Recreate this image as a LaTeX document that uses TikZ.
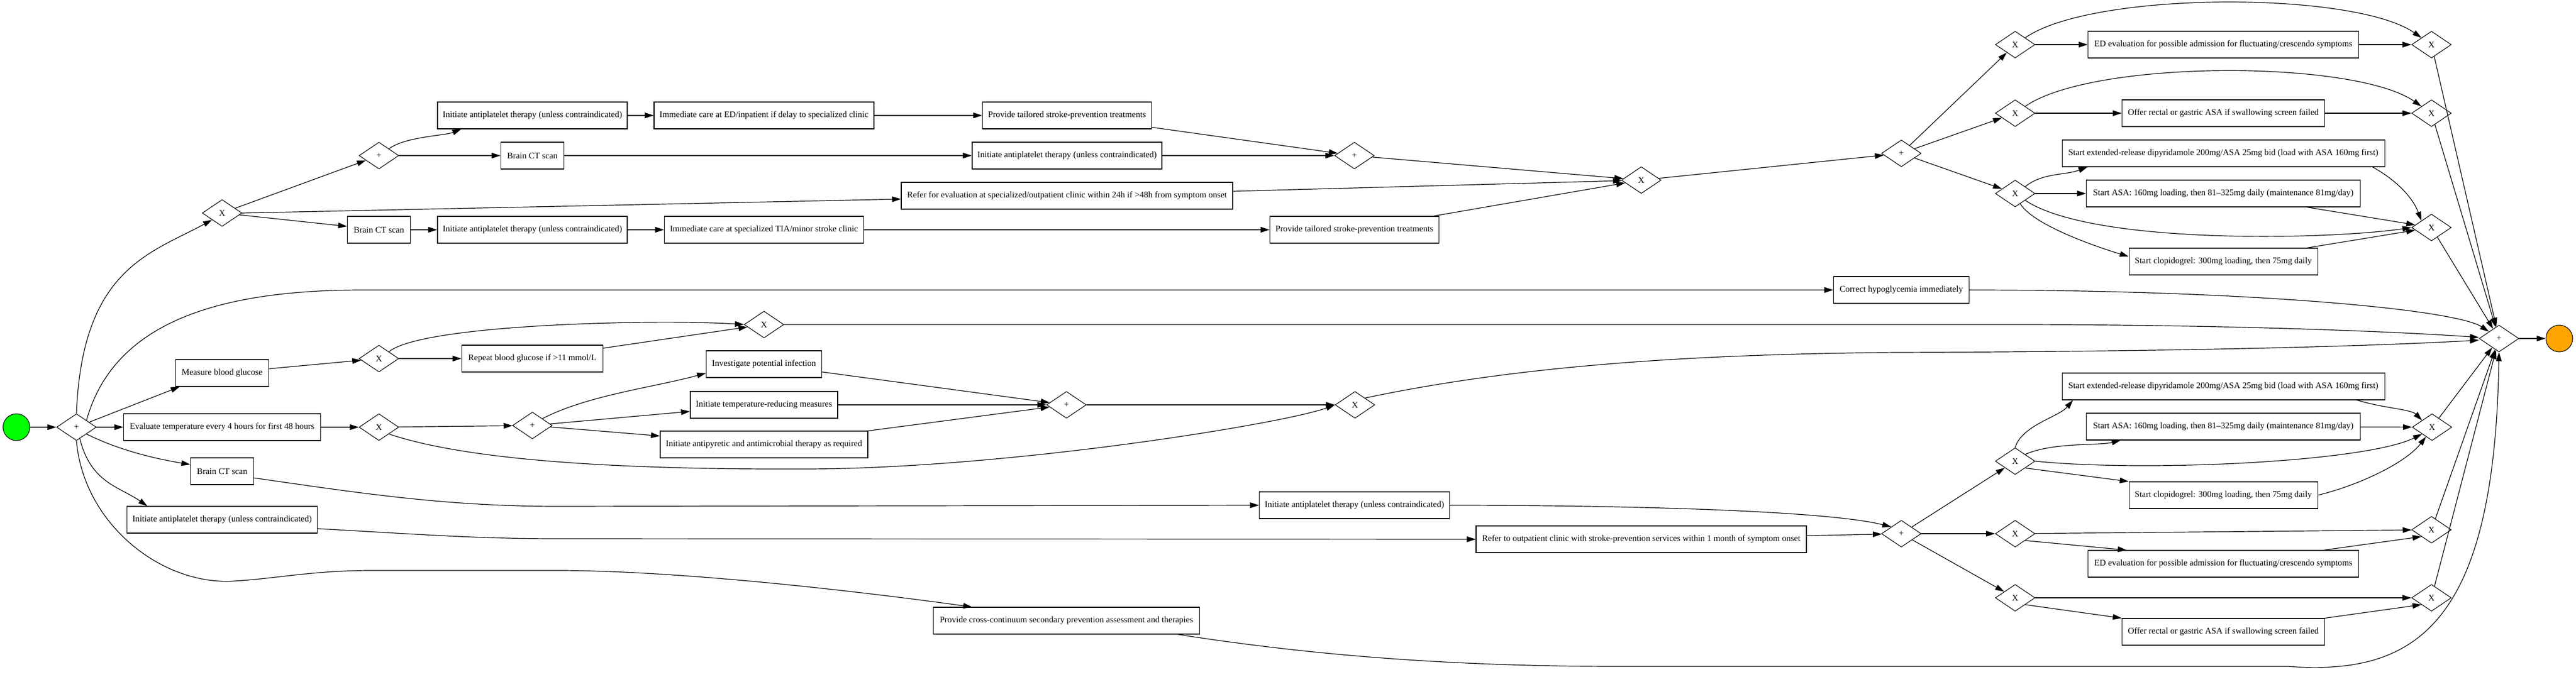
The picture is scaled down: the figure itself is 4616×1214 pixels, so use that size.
\documentclass[tikz,border=0pt]{standalone}
\usepackage{fontspec}
\setmainfont{Liberation Serif}
\usetikzlibrary{shapes.geometric,arrows.meta,calc}
\definecolor{startgreen}{HTML}{00FF00}
\definecolor{endorange}{HTML}{FFA500}
\begin{document}
\begin{tikzpicture}[x=1pt,y=-1pt,
  task/.style={draw, line width=1.1pt, rectangle, minimum height=48pt, inner xsep=3pt, inner ysep=0pt, font=\fontsize{15.6}{18}\selectfont},
  gw/.style={draw, line width=1.1pt, diamond, minimum width=71pt, minimum height=48pt, inner sep=0pt, font=\fontsize{15.6}{18}\selectfont},
  startev/.style={circle, draw, line width=1.1pt, fill=startgreen, minimum size=48pt, inner sep=0pt},
  endev/.style={circle, draw, line width=1.1pt, fill=endorange, minimum size=48pt, inner sep=0pt},
  flow/.style={line width=1.2pt, -{Triangle[length=16pt,width=10pt]}}]
\useasboundingbox (0,0) rectangle (4616,1214);

% ---------- nodes ----------
\node[startev] (start) at (29.5,766) {};
\node[gw] (mainp) at (137,766) {+};

\node[gw] (Xup) at (398,382) {X};
\node[gw] (ptop) at (679,279) {+};
\node[task, minimum width=113pt] (bct1) at (679,412) {Brain CT scan};
\node[task, minimum width=594pt] (refer) at (1912,351) {Refer for evaluation at specialized/outpatient clinic within 24h if >48h from symptom onset};
\node[task, minimum width=340pt] (aplT) at (954,207) {Initiate antiplatelet therapy (unless contraindicated)};
\node[task, minimum width=394pt] (edT) at (1369,207) {Immediate care at ED/inpatient if delay to specialized clinic};
\node[task, minimum width=303pt] (ptT) at (1912,207) {Provide tailored stroke-prevention treatments};
\node[task, minimum width=113pt] (bct2) at (954,279) {Brain CT scan};
\node[task, minimum width=340pt] (aplM) at (1912,279) {Initiate antiplatelet therapy (unless contraindicated)};
\node[gw] (pmerge) at (2427,279) {+};
\node[task, minimum width=340pt] (aplB) at (954,412) {Initiate antiplatelet therapy (unless contraindicated)};
\node[task, minimum width=357pt] (tia) at (1369,412) {Immediate care at specialized TIA/minor stroke clinic};
\node[task, minimum width=303pt] (ptB) at (2427,412) {Provide tailored stroke-prevention treatments};
\node[gw] (Xmerge) at (2941,323) {X};
\node[gw] (psplitT) at (3407,275) {+};

\node[gw] (X1) at (3611,80) {X};
\node[task, minimum width=485pt] (ed1) at (3984,80) {ED evaluation for possible admission for fluctuating/crescendo symptoms};
\node[gw] (X1m) at (4357,80) {X};
\node[gw] (X2) at (3611,203) {X};
\node[task, minimum width=363pt] (or2) at (3984,203) {Offer rectal or gastric ASA if swallowing screen failed};
\node[gw] (X2m) at (4357,203) {X};
\node[gw] (X3) at (3611,347) {X};
\node[task, minimum width=578pt] (sx3) at (3984,275) {Start extended-release dipyridamole 200mg/ASA 25mg bid (load with ASA 160mg first)};
\node[task, minimum width=491pt] (sa3) at (3984,347) {Start ASA: 160mg loading, then 81--325mg daily (maintenance 81mg/day)};
\node[task, minimum width=338pt] (sc3) at (3984,469) {Start clopidogrel: 300mg loading, then 75mg daily};
\node[gw] (X3m) at (4357,408) {X};

\node[task, minimum width=243pt] (hypo) at (3407,520) {Correct hypoglycemia immediately};
\node[gw] (fin) at (4478,607) {+};
\node[endev] (endc) at (4586,607) {};

\node[task, minimum width=167pt] (mbg) at (398,669) {Measure blood glucose};
\node[gw] (Xg) at (679,643) {X};
\node[task, minimum width=253pt] (rbg) at (954,643) {Repeat blood glucose if >11 mmol/L};
\node[gw] (Xgm) at (1369,582) {X};

\node[task, minimum width=353pt] (evt) at (398,766) {Evaluate temperature every 4 hours for first 48 hours};
\node[gw] (Xt) at (679,766) {X};
\node[gw] (ptsplit) at (954,763) {+};
\node[task, minimum width=207pt] (inv) at (1369,653) {Investigate potential infection};
\node[task, minimum width=264pt] (trm) at (1369,726) {Initiate temperature-reducing measures};
\node[task, minimum width=372pt] (apy) at (1369,797) {Initiate antipyretic and antimicrobial therapy as required};
\node[gw] (pjoin) at (1911,726) {+};
\node[gw] (Xtm) at (2428,726) {X};

\node[task, minimum width=113pt] (bctL) at (398,845) {Brain CT scan};
\node[task, minimum width=341pt] (aplL) at (398,932) {Initiate antiplatelet therapy (unless contraindicated)};
\node[task, minimum width=341pt] (aplMid) at (2427,906) {Initiate antiplatelet therapy (unless contraindicated)};
\node[task, minimum width=592pt] (referOut) at (2941,967) {Refer to outpatient clinic with stroke-prevention services within 1 month of symptom onset};
\node[gw] (psplitB) at (3407,957) {+};

\node[gw] (XL) at (3611,827) {X};
\node[task, minimum width=578pt] (sxL) at (3984,693) {Start extended-release dipyridamole 200mg/ASA 25mg bid (load with ASA 160mg first)};
\node[task, minimum width=491pt] (saL) at (3984,765) {Start ASA: 160mg loading, then 81--325mg daily (maintenance 81mg/day)};
\node[task, minimum width=338pt] (scL) at (3984,888) {Start clopidogrel: 300mg loading, then 75mg daily};
\node[gw] (XLm) at (4358,766) {X};
\node[gw] (XM) at (3611,957) {X};
\node[task, minimum width=485pt] (edL) at (3984,1011) {ED evaluation for possible admission for fluctuating/crescendo symptoms};
\node[gw] (XMm) at (4357,950) {X};
\node[gw] (XB) at (3611,1072) {X};
\node[task, minimum width=363pt] (orL) at (3984,1133) {Offer rectal or gastric ASA if swallowing screen failed};
\node[gw] (XBm) at (4357,1072) {X};

\node[task, minimum width=477pt] (ptcross) at (1911,1113) {Provide cross-continuum secondary prevention assessment and therapies};

% ---------- connectors: left ----------
\draw[flow] (start) -- (mainp);
\draw[flow] (mainp.north) .. controls +(10,-260) and +(-110,60) .. (Xup.south west);
\draw[flow] (mainp.north east) .. controls +(50,-180) and +(-250,0) .. (650,520) -- (hypo.west);
\draw[flow] (mainp) -- ($(mbg.south west)+(8,0)$);
\draw[flow] (mainp) -- (evt);
\draw[flow] (mainp.south east) .. controls +(60,30) and +(-60,-10) .. ($(bctL.west)+(0,-12)$);
\draw[flow] ($(mainp.south)+(6,-4)$) .. controls +(20,80) and +(-50,-35) .. ($(aplL.north west)+(37,0)$);
\draw[flow] (mainp.south) .. controls (150,940) and (290,1050) .. (419,1042)
   .. controls (500,1037) and (560,1023) .. (666,1023) -- (999,1023)
   .. controls (1200,1023) and (1500,1055) .. ($(ptcross.north west)+(70,0)$);

% ---------- top branch ----------
\draw[flow] (Xup) -- (ptop);
\draw[flow] (Xup.east) -- ($(refer.west)+(0,6)$);
\draw[flow] (Xup) -- (bct1);
\draw[flow] (ptop.north east) .. controls +(30,-22) and +(-30,12) .. ($(aplT.south west)+(43,0)$);
\draw[flow] (ptop) -- (bct2);
\draw[flow] (aplT) -- (edT);
\draw[flow] (edT) -- (ptT);
\draw[flow] (ptT) -- (pmerge);
\draw[flow] (bct2) -- (aplM);
\draw[flow] (aplM) -- (pmerge);
\draw[flow] (pmerge) -- (Xmerge);
\draw[flow] (refer) -- (Xmerge);
\draw[flow] (ptB) -- (Xmerge);
\draw[flow] (bct1) -- (aplB);
\draw[flow] (aplB) -- (tia);
\draw[flow] (tia) -- (ptB);
\draw[flow] (Xmerge) -- (psplitT);
\draw[flow] (psplitT) -- (X1);
\draw[flow] (psplitT) -- (X2);
\draw[flow] (psplitT) -- (X3);

\draw[flow] (X1) -- (ed1);
\draw[flow] (ed1) -- (X1m);
\draw[flow] (X1.north east) .. controls +(120,-84) and +(-120,-84) .. (X1m.north west);
\draw[flow] (X2) -- (or2);
\draw[flow] (or2) -- (X2m);
\draw[flow] (X2.north east) .. controls +(120,-84) and +(-120,-84) .. (X2m.north west);
\draw[flow] (X3.north east) .. controls +(30,-25) and +(-40,15) .. ($(sx3.south west)+(46,0)$);
\draw[flow] (X3) -- (sa3);
\draw[flow] (X3.south east) .. controls +(120,80) and +(-150,22) .. (X3m.west);
\draw[flow] ($(X3.south)!0.5!(X3.south east)$) .. controls +(25,40) and +(-50,-15) .. ($(sc3.west)+(0,-9)$);
\draw[flow] ($(sx3.south east)+(-22,0)$) .. controls +(45,25) and +(-15,-40) .. (X3m.north west);
\draw[flow] (sa3) -- (X3m);
\draw[flow] (sc3) -- (X3m);
\draw[flow] (X1m) -- (fin);
\draw[flow] (X2m) -- (fin);
\draw[flow] (X3m) -- (fin);

\draw[flow] (hypo.east) .. controls +(500,0) and +(-60,-40) .. (fin.north west);

% ---------- glucose ----------
\draw[flow] (mbg) -- (Xg);
\draw[flow] (Xg) -- (rbg);
\draw[flow] (Xg.north east) .. controls +(60,-50) and +(-150,-10) .. (Xgm.west);
\draw[flow] (rbg) -- (Xgm);
\draw[flow] (Xgm.east) -- (3600,582) .. controls (4000,582) and (4300,595) .. ($(fin.west)+(0,-2)$);

% ---------- temperature ----------
\draw[flow] (evt) -- (Xt);
\draw[flow] (Xt) -- (ptsplit);
\draw[flow] (ptsplit.north east) .. controls +(80,-42) and +(-90,25) .. ($(inv.west)+(0,16)$);
\draw[flow] (ptsplit) -- (trm);
\draw[flow] (ptsplit) -- (apy);
\draw[flow] (inv) -- (pjoin);
\draw[flow] (trm) -- (pjoin);
\draw[flow] (apy) -- (pjoin);
\draw[flow] (pjoin) -- (Xtm);
\draw[flow] (Xt.south east) .. controls (850,830) and (1150,842) .. (1440,841)
   .. controls (1800,841) and (2300,760) .. (Xtm.west);
\draw[flow] (Xtm.north east) .. controls (2700,660) and (3000,635) .. (3400,632)
   .. controls (4000,630) and (4300,618) .. ($(fin.west)+(0,3)$);

% ---------- lower branch ----------
\draw[flow] ($(bctL.east)+(0,12)$) .. controls (650,885) and (800,908) .. (1000,908) -- (aplMid.west);
\draw[flow] ($(aplL.east)+(0,16)$) .. controls (750,958) and (850,966) .. (1000,966) -- (referOut.west);
\draw[flow] (aplMid.east) .. controls +(300,0) and +(-120,-30) .. (psplitB.north west);
\draw[flow] (referOut) -- (psplitB);
\draw[flow] (psplitB) -- (XL);
\draw[flow] (psplitB) -- (XM);
\draw[flow] (psplitB) -- (XB);

\draw[flow] (XL.north) .. controls +(12,-40) and +(-25,30) .. ($(sxL.south west)+(20,0)$);
\draw[flow] (XL.north east) .. controls +(50,-22) and +(-40,10) .. ($(saL.south west)+(62,0)$);
\draw[flow] (XL.east) .. controls +(200,20) and +(-100,50) .. (XLm.south west);
\draw[flow] (XL.south east) -- (scL.north west);
\draw[flow] ($(sxL.south east)+(-50,0)$) .. controls +(50,15) and +(-20,-20) .. (XLm.north west);
\draw[flow] (saL) -- (XLm);
\draw[flow] (scL.east) .. controls +(80,-20) and +(-35,45) .. ($(XLm.south west)!0.4!(XLm.south)$);
\draw[flow] (XM) -- (XMm);
\draw[flow] (XM.south east) -- ($(edL.north west)+(70,0)$);
\draw[flow] ($(edL.north east)+(-63,0)$) -- (XMm.south west);
\draw[flow] (XB) -- (XBm);
\draw[flow] (XB.south east) -- (orL.north west);
\draw[flow] (orL.north east) -- (XBm.south west);
\draw[flow] (XLm) -- (fin);
\draw[flow] (XMm) -- (fin);
\draw[flow] (XBm) -- (fin);

\draw[flow] ($(ptcross.south east)+(-40,0)$) .. controls (2350,1175) and (2600,1195) .. (2900,1195)
   -- (4100,1195) .. controls (4330,1212) and (4470,1120) .. (fin.south);

\draw[flow] (fin) -- (endc);
\end{tikzpicture}
\end{document}
